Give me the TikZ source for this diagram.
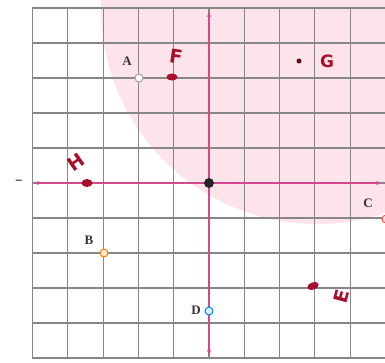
\documentclass[tikz,border=0pt]{standalone}
\usepackage{fontspec}
\setmainfont{Liberation Serif}
\newfontfamily\handfont{DejaVu Sans}
\usetikzlibrary{arrows.meta,shapes.geometric}
\definecolor{pinkfill}{HTML}{FCE4EA}
\definecolor{gridc}{HTML}{878787}
\definecolor{axisc}{HTML}{D4488C}
\definecolor{ink}{HTML}{A80F2C}
\definecolor{labc}{HTML}{333333}
\tikzset{
  gridline/.style={draw=gridc, line width=1.1pt},
  axisline/.style={draw=axisc, line width=1.4pt, {Stealth[length=5pt,width=4pt]}-{Stealth[length=5pt,width=4pt]}},
  openpt/.style={circle, draw=#1, line width=1pt, fill=white, inner sep=0pt, minimum size=8pt},
  ptlabel/.style={text=labc, font=\fontsize{13}{15}\selectfont\bfseries},
  hand/.style={text=ink, font=\fontsize{19}{22}\selectfont\handfont\bfseries},
  blob/.style={fill=ink, ellipse, inner sep=0pt}
}
\begin{document}
\begin{tikzpicture}[x=1pt,y=-1pt]
\useasboundingbox (0,0) rectangle (385,362);
\begin{scope}
  \clip (0,0) rectangle (385,362);
  \fill[pinkfill] (317,8) circle[radius=216pt];
  \foreach \i in {0,...,10} {
    \draw[gridline] ({209+35.3*(\i-5)},8) -- ({209+35.3*(\i-5)},358);
    \draw[gridline] (32,{183+35*(\i-5)}) -- (386,{183+35*(\i-5)});
  }
\end{scope}
% axes
\coordinate (xl) at (34,183);
\coordinate (xr) at (381,183);
\coordinate (yt) at (209,12);
\coordinate (yb) at (209,355);
\draw[axisline] (xl) -- (xr);
\draw[axisline] (yb) -- (yt);
\node[text=black, font=\large\bfseries] (dash) at (19,182) {\textendash};
% origin
\node[circle, fill=black!85, inner sep=0pt, minimum size=10pt] (O) at (209,183) {};
% open points
\node[openpt=gray!75] (A) at (139,78) {};
\node[ptlabel] (Alab) at (127,61) {A};
\node[openpt={orange!70!brown}, fill=orange!20] (B) at (104,253) {};
\node[ptlabel] (Blab) at (89,240) {B};
\node[openpt={red!60!pink}, fill=pink!30] (C) at (386,219) {};
\node[ptlabel] (Clab) at (368,203) {C};
\node[openpt={blue!50!cyan}, fill=cyan!15] (D) at (209,311) {};
\node[ptlabel] (Dlab) at (196,310) {D};
% handwritten points
\node[blob, minimum width=11pt, minimum height=7pt] (F) at (172,77) {};
\node[hand, rotate=-8] (Flab) at (176,57) {F};
\node[circle, fill=ink!60!black, inner sep=0pt, minimum size=5pt] (G) at (299,61) {};
\node[hand, font=\fontsize{17}{20}\selectfont\handfont\bfseries] (Glab) at (327,61) {G};
\node[blob, minimum width=11pt, minimum height=8pt] (H) at (87,183) {};
\node[hand, rotate=35] (Hlab) at (76,162) {H};
\node[blob, rotate=20, minimum width=12pt, minimum height=7pt] (E) at (313,286) {};
\node[hand, rotate=75] (Elab) at (341,296) {E};
\end{tikzpicture}
\end{document}
